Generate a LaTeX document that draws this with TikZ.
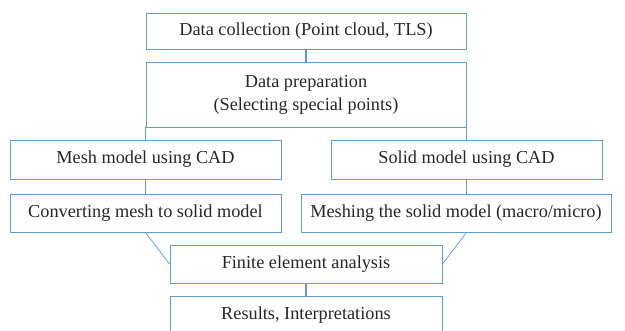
\documentclass[tikz,border=0pt]{standalone}
\usepackage{fontspec}
\setmainfont{Liberation Serif}
\definecolor{cadblue}{RGB}{91,155,213}
\tikzset{
  stage/.style={draw=cadblue, line width=0.7pt, text=black!85, align=center,
    inner sep=0pt, font=\fontsize{13}{16.4}\selectfont},
  link/.style={draw=cadblue, line width=1pt},
  slant/.style={draw=cadblue, line width=0.5pt}
}
\begin{document}
\begin{tikzpicture}
  \useasboundingbox (0,0) rectangle (15.625,8.25);
  \node[stage, minimum width=8cm, minimum height=0.9cm] (collect) at (7.65,7.475) {Data collection (Point cloud, TLS)};
  \node[stage, minimum width=8cm, minimum height=1.625cm] (prep) at (7.65,5.8875) {Data preparation\\(Selecting special points)};
  \node[stage, minimum width=6.775cm, minimum height=0.975cm] (mesh) at (3.6375,4.2625) {Mesh model using CAD};
  \node[stage, minimum width=6.775cm, minimum height=0.975cm] (solid) at (11.6625,4.2625) {Solid model using CAD};
  \node[stage, minimum width=6.775cm, minimum height=0.95cm] (conv) at (3.6375,2.925) {Converting mesh to solid model};
  \node[stage, minimum width=7.75cm, minimum height=0.95cm] (meshing) at (11.4,2.925) {Meshing the solid model (macro/micro)};
  \node[stage, minimum width=6.8cm, minimum height=0.95cm] (fea) at (7.65,1.65) {Finite element analysis};
  \node[stage, minimum width=6.8cm, minimum height=0.95cm] (results) at (7.65,0.375) {Results, Interpretations};
  % connectors
  \draw[link] (collect.south) -- (prep.north);
  \draw[slant] (prep.south west) -- (prep.south west |- mesh.north); %left branch
  \draw[slant] (prep.south east) -- (prep.south east |- solid.north); %right branch
  \draw[slant] (mesh.south) -- (conv.north);
  \draw[link] (solid.south) -- (solid.south |- meshing.north);
  \draw[slant] (conv.south) -- (fea.west);
  \draw[slant] (solid.south |- meshing.south) -- (fea.east);
  \draw[link] (fea.south) -- (results.north);
\end{tikzpicture}
\end{document}
